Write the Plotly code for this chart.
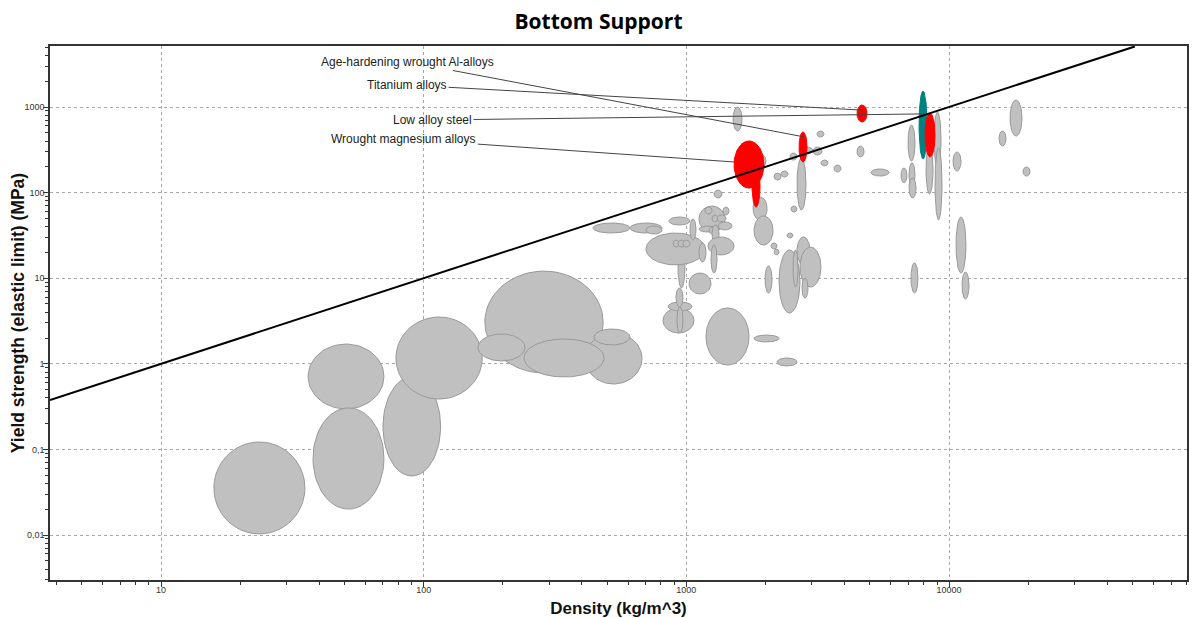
import numpy as np
import plotly.graph_objects as go

# grey material bubbles: density range (kg/m^3), yield strength range (MPa)
rho_lo = [15.9, 36.3, 37.9, 70.0, 78.4, 171, 412, 241, 161, 445,
          815, 852, 921, 913, 929, 1024, 1188, 1810, 2214,
          441, 610, 702, 859, 702, 1032, 1117,
          1178, 1252, 1308, 1320, 1117, 1220, 1379,
          1252, 1209, 1117, 1241, 890, 929, 971, 1274,
          1794, 1810, 2502, 2416, 2101, 2157, 1993, 2253, 2638, 2708, 2547, 2756,
          1506, 1858, 2638, 2481, 2708, 3035, 3143, 3255, 3649, 2157, 2293,
          4463, 5047, 6980, 6565, 7040, 7040, 8173, 8767, 8844,
          10356, 10631, 11205, 7164, 17070, 15500, 19120]
rho_hi = [35.3, 70.6, 70.6, 116, 167, 482, 678, 486, 243, 610,
          1069, 1051, 971, 971, 988, 1241, 1732, 2253, 2638,
          610, 808, 808, 1032, 1178, 1088, 1403,
          1252, 1320, 1416, 1492, 1308, 1297, 1453,
          1332, 1519, 1188, 1308, 938, 988, 1032, 1367,
          2029, 2138, 2638, 2547, 2214, 2253, 2119, 2708, 2956, 3255, 2661, 2905,
          1629, 2011, 2854, 2638, 3035, 3284, 3342, 3462, 3880, 2293, 2438,
          4747, 5909, 7422, 6918, 7422, 7488, 8690, 9322, 9404,
          11107, 11601, 11914, 7618, 18960, 16480, 20340]
sig_lo = [0.0103, 0.297, 0.0201, 0.0489, 0.388, 0.781, 0.581, 0.701, 1.08, 1.66,
          2.29, 4.14, 2.29, 4.61, 7.68, 6.54, 0.968, 1.80, 0.943,
          33.7, 33.7, 32.8, 41.8, 14.3, 27.9, 34.6,
          56.2, 45.4, 45.4, 36.6, 34.6, 32.8, 54.7,
          25.8, 18.7, 15.5, 11.5, 23.1, 23.1, 23.1, 86.5,
          47.9, 24.4, 59.3, 29.5, 21.9, 18.7, 6.72, 3.92, 14.3, 7.89, 7.89, 5.87,
          524, 199, 62.6, 240, 282, 275, 446, 205, 174, 140, 152,
          261, 156, 234, 130, 119, 86.5, 96.3, 199, 47.9,
          179, 11.5, 5.72, 6.72, 458, 350, 156]
sig_hi = [0.122, 1.70, 0.305, 0.701, 3.52, 12.1, 2.29, 1.95, 2.23, 2.55,
          4.49, 5.27, 4.61, 7.68, 24.4, 11.5, 4.49, 2.17, 1.17,
          44.2, 44.2, 40.7, 51.9, 33.7, 49.2, 69.7,
          67.9, 54.7, 54.7, 45.4, 40.7, 39.6, 67.9,
          41.8, 30.3, 25.8, 24.4, 27.9, 27.9, 27.9, 107,
          88.8, 53.3, 69.7, 33.7, 25.8, 21.9, 13.9, 21.4, 30.3, 23.1, 21.4, 10.0,
          1000, 275, 254, 290, 341, 341, 524, 240, 210, 169, 179,
          350, 189, 616, 194, 222, 148, 360, 874, 332,
          298, 51.9, 11.8, 15.1, 1207, 524, 199]

# highlighted materials
hl_name = ["Wrought magnesium alloys", "Magnesium alloys", "Age-hardening wrought Al-alloys",
           "Titanium alloys", "Low alloy steel", "Alloy"]
hl_rho_lo = [1519, 1778, 2685, 4463, 7689, 8104]
hl_rho_hi = [1975, 1908, 2880, 4873, 8246, 8844]
hl_sig_lo = [113, 67.9, 228, 668, 247, 261]
hl_sig_hi = [401, 210, 510, 1055, 1538, 851]
hl_color = ["#ff0000", "#ff0000", "#ff0000", "#ff0000", "#008080", "#ff0000"]

# selection guide line
guide_rho = [3.78, 51000]
guide_sig = [0.378, 5100]

# callouts: arrow tip (on bubble) and label centre
lab_text = ["Age-hardening wrought Al-alloys", "Titanium alloys", "Low alloy steel",
            "Wrought magnesium alloys"]
lab_rho = [2780, 4660, 7890, 1520]
lab_sig = [450, 920, 830, 228]
lab_trho = [87.1, 86.4, 108.0, 84.1]
lab_tsig = [3356, 1807, 705, 423]


def ellipse(x0, x1, y0, y1, n=80):
    t = np.linspace(0, 2 * np.pi, n)
    cx, rx = (np.log10(x0) + np.log10(x1)) / 2, (np.log10(x1) - np.log10(x0)) / 2
    cy, ry = (np.log10(y0) + np.log10(y1)) / 2, (np.log10(y1) - np.log10(y0)) / 2
    return 10 ** (cx + rx * np.cos(t)), 10 ** (cy + ry * np.sin(t))


fig = go.Figure()

for i in range(len(rho_lo)):
    ex, ey = ellipse(rho_lo[i], rho_hi[i], sig_lo[i], sig_hi[i])
    fig.add_trace(go.Scatter(x=ex, y=ey, mode="lines", fill="toself",
                             fillcolor="#c0c0c0", line=dict(color="#999999", width=1),
                             hoverinfo="skip", showlegend=False))

for i in range(len(hl_name)):
    ex, ey = ellipse(hl_rho_lo[i], hl_rho_hi[i], hl_sig_lo[i], hl_sig_hi[i])
    fig.add_trace(go.Scatter(x=ex, y=ey, mode="lines", fill="toself", name=hl_name[i],
                             fillcolor=hl_color[i], line=dict(color=hl_color[i], width=1),
                             showlegend=False))

fig.add_trace(go.Scatter(x=guide_rho, y=guide_sig, mode="lines",
                         line=dict(color="black", width=2), hoverinfo="skip",
                         showlegend=False))

for i in range(len(lab_text)):
    fig.add_annotation(x=np.log10(lab_rho[i]), y=np.log10(lab_sig[i]),
                       ax=np.log10(lab_trho[i]), ay=np.log10(lab_tsig[i]),
                       axref="x", ayref="y", text=lab_text[i], showarrow=True,
                       arrowhead=0, arrowwidth=1, arrowcolor="#444444", standoff=0,
                       font=dict(family="Liberation Sans, Arial", size=12, color="#222222"))

minor_x = [m * 10 ** k for k in range(0, 5) for m in range(2, 10)]
minor_y = [m * 10 ** k for k in range(-3, 4) for m in range(2, 10)]

axis_common = dict(type="log", showline=True, linecolor="#333333", linewidth=1.5,
                   mirror=True, ticks="outside", ticklen=5, tickcolor="#333333",
                   showgrid=True, gridcolor="#a8a8a8", griddash="3px,3px", gridwidth=1,
                   tickfont=dict(family="Liberation Sans, Arial", size=9, color="#333333"),
                   tickmode="array", automargin=False, zeroline=False)

# page body has an 8px margin, so the figure is shifted by 8px inside the window
fig.update_layout(
    width=1181, height=610,
    margin=dict(l=42, r=2, t=38, b=38),
    paper_bgcolor="white", plot_bgcolor="white",
    title=dict(text="<b>Bottom Support</b>", x=0.5, xanchor="center",
               y=1 - 14 / 610, yanchor="middle",
               font=dict(family="Open Sans", size=21, color="black")),
    xaxis=dict(axis_common, range=[0.5774, 4.906], ticklabelstandoff=-5,
               tickvals=[10, 100, 1000, 10000], ticktext=["10", "100", "1000", "10000"],
               minor=dict(tickmode="array", tickvals=minor_x, ticks="outside",
                          ticklen=3, tickcolor="#333333", showgrid=False),
               title=dict(text="<b>Density (kg/m^3)</b>", standoff=12,
                          font=dict(family="Liberation Sans, Arial", size=17, color="#111111"))),
    yaxis=dict(axis_common, range=[-2.5257, 3.7126], ticklabelstandoff=-3,
               tickvals=[0.01, 0.1, 1, 10, 100, 1000],
               ticktext=["0,01", "0,1", "1", "10", "100", "1000"],
               minor=dict(tickmode="array", tickvals=minor_y, ticks="outside",
                          ticklen=3, tickcolor="#333333", showgrid=False),
               title=dict(text="<b>Yield strength (elastic limit) (MPa)</b>", standoff=5,
                          font=dict(family="Liberation Sans, Arial", size=17.5, color="#111111"))),
)

fig.write_html("out.html")
